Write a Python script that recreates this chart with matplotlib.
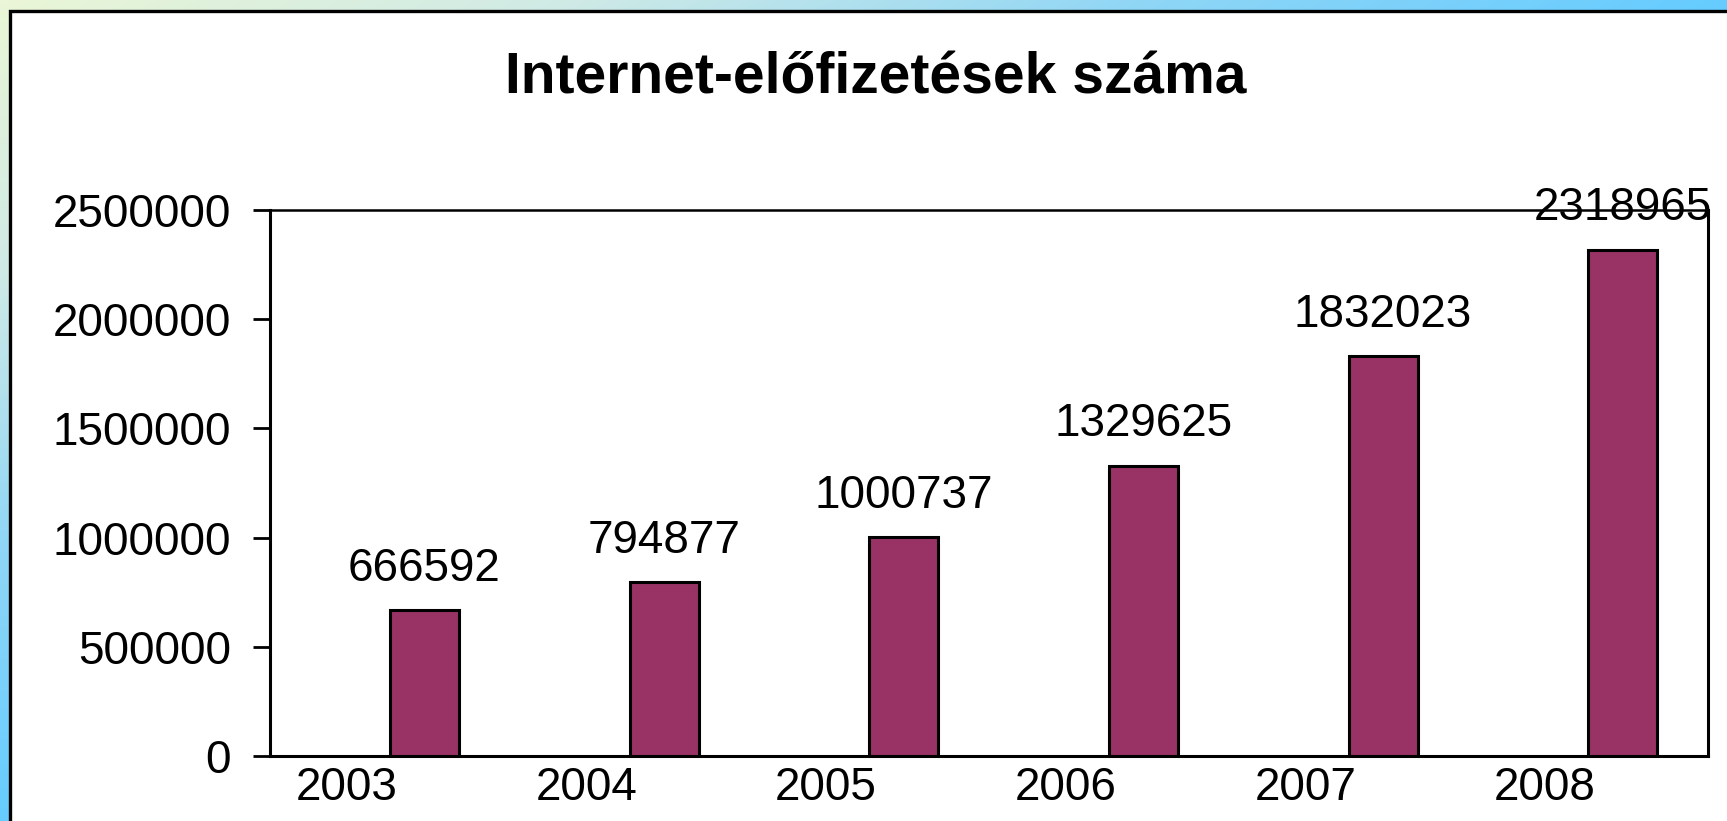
import numpy as np
import matplotlib
matplotlib.use("Agg")
import matplotlib.pyplot as plt
from matplotlib.colors import LinearSegmentedColormap
from matplotlib.patches import Rectangle

years = ["2003", "2004", "2005", "2006", "2007", "2008"]
values = [666592, 794877, 1000737, 1329625, 1832023, 2318965]
title = "Internet-előfizetések száma"
yticks = [0, 500000, 1000000, 1500000, 2000000, 2500000]

W, H, DPI = 1727, 821, 100
plt.rcParams['font.family'] = ['Liberation Sans', 'DejaVu Sans']
fig = plt.figure(figsize=(W / DPI, H / DPI), dpi=DPI)

# gradient background
bg = fig.add_axes([0, 0, 1, 1], zorder=-10)
xx, yy = np.meshgrid(np.linspace(0, 1, 400), np.linspace(0, 1, 200))
t = np.clip(xx * 1.0 + yy * 1.0, 0, 1)
cmap = LinearSegmentedColormap.from_list("g", ["#eaf6d6", "#cfeae6", "#8fd6f6", "#66ccff"])
bg.imshow(t, cmap=cmap, aspect='auto', extent=[0, 1, 1, 0], interpolation='bilinear')
bg.set_xlim(0, 1); bg.set_ylim(1, 0)
bg.axis('off')

# white panel with black border
fig.patches.append(Rectangle((10 / W, -0.1), 1.2, 1.1 - 11 / H, transform=fig.transFigure,
                             facecolor='white', edgecolor='black', linewidth=2.4, zorder=-5))

ax = fig.add_axes([270 / W, (H - 756) / H, (1708 - 270) / W, (756 - 210) / H])
ax.set_facecolor('white')
x = np.arange(len(years))
bw = 0.288
ax.bar(x, values, width=bw, align='edge', color='#993366', edgecolor='black', linewidth=2.2, zorder=3)
for xi, v in zip(x, values):
    ax.annotate(str(v), (xi + bw / 2, v), xytext=(0, 21), textcoords='offset points',
                ha='center', va='baseline', fontsize=33, color='black')

ax.set_xlim(-0.5, len(years) - 0.5)
ax.set_ylim(0, 2500000)
ax.set_yticks(yticks)
ax.set_yticklabels([str(v) for v in yticks], fontsize=33)
ax.set_xticks(x - 0.18)
ax.set_xticklabels(years, fontsize=33)
ax.tick_params(axis='x', length=0, pad=7)
ax.tick_params(axis='y', length=12, width=2, pad=16, direction='out')
for s in ax.spines.values():
    s.set_linewidth(2.2)
    s.set_color('black')
ax.spines['top'].set_linewidth(1.8)

fig.text(876 / W, (H - 93) / H, title, ha='center', va='baseline', fontsize=41, fontweight='bold')

fig.savefig("out.png", dpi=DPI)
